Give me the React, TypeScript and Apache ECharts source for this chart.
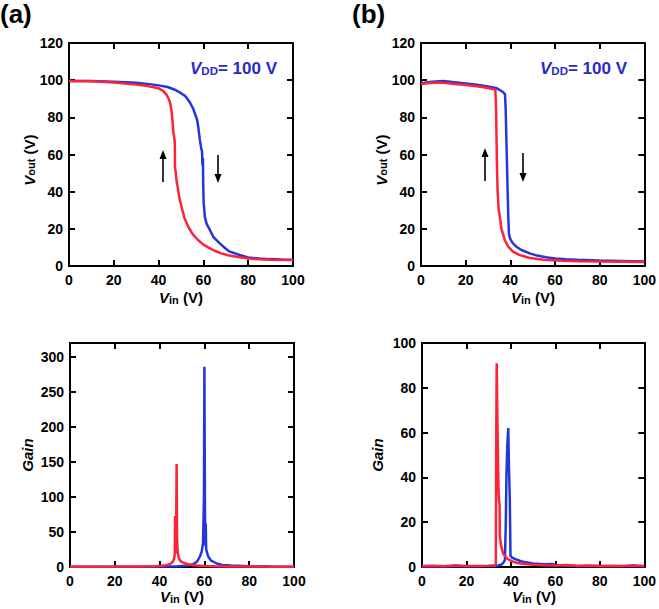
import React, { useEffect, useRef } from "react";
import * as echarts from "echarts";

// ---------- data ----------
const vinTicks = [0, 20, 40, 60, 80, 100];

// Panel (a) transfer curves [Vin, Vout]
const voutBlueA: number[][] = [
  [0, 99.6], [10, 99.5], [20, 99.2], [30, 98.6], [35, 98], [40, 97.2], [44, 96.3], [47, 95], [50, 93],
  [52, 91.3], [54, 88], [55.5, 84.5], [56.5, 81], [57.2, 78.7], [57.8, 74], [58.4, 68], [59, 63.5],
  [59.4, 61.5], [59.6, 54], [59.8, 58], [59.9, 45], [60.1, 34], [60.3, 32], [60.6, 26.6], [61.5, 22.5],
  [62.9, 19.4], [64.5, 15.5], [67.3, 12.2], [70, 9.3], [71.8, 7.7], [76.2, 5.9], [80, 4.6], [85, 4.0],
  [90, 3.7], [95, 3.5], [100, 3.4]
];
const voutRedA: number[][] = [
  [0, 99.6], [10, 99.4], [20, 98.8], [30, 97.6], [35, 96.8], [40, 95.6], [42, 94.2], [43.5, 92.2],
  [44.5, 90], [45.2, 87.5], [45.8, 83], [46.2, 78], [46.6, 72], [47, 69], [47.2, 67], [47.3, 60],
  [47.3, 53], [47.6, 51], [48, 46], [48.5, 42.7], [49.2, 37], [50.2, 32], [51.5, 26], [53.2, 21.2],
  [55.3, 17], [57.6, 14], [60, 11.5], [62.9, 9.5], [65, 8.2], [68, 6.8], [71, 5.8], [74.8, 5],
  [80, 4], [85, 3.6], [90, 3.4], [100, 3.2]
];

// Panel (b) transfer curves [Vin, Vout]
const voutBlueB: number[][] = [
  [0, 98.4], [5, 99.2], [10, 99.5], [15, 98.9], [20, 98.2], [25, 97.5], [30, 96.6], [34, 95.6],
  [36.7, 93.6], [37.6, 92.5], [37.9, 85], [38.2, 70], [38.5, 55], [38.8, 40], [39.1, 26], [39.4, 17],
  [40, 14.5], [41, 12.5], [42.7, 10.4], [45, 8.6], [48.7, 6.8], [52, 5.6], [56, 4.7], [60, 4.1],
  [65, 3.7], [70, 3.4], [80, 3.0], [90, 2.7], [100, 2.4]
];
const voutRedB: number[][] = [
  [0, 98], [5, 98.6], [10, 98.6], [15, 98], [20, 97.4], [25, 96.7], [30, 95.8], [33.3, 94.8],
  [33.6, 85], [33.8, 70], [34, 55], [34.3, 40], [34.8, 30], [35.3, 26.6], [36, 20], [37.5, 14],
  [39, 10.5], [41.2, 7.7], [44, 6], [48.7, 4.3], [55, 3.4], [63.5, 2.8], [70, 2.6], [80, 2.4],
  [90, 2.3], [100, 2.1]
];

// Panel (a) gain [Vin, Gain]
const gainBlueA: number[][] = [
  [0, 0.3], [20, 0.4], [40, 0.6], [48, 1], [52, 1.8], [55, 4], [56.8, 8], [58, 15], [58.8, 22],
  [59.4, 35], [59.8, 100], [60, 286], [60.25, 80], [60.45, 30], [60.6, 62], [60.8, 25], [61.7, 15],
  [63, 9], [65.5, 5], [68, 3], [72, 2], [80, 1], [90, 0.6], [100, 0.5]
];
const gainRedA: number[][] = [
  [0, 0.5], [10, 0.5], [20, 0.6], [30, 0.8], [38, 1.2], [42, 2], [44.6, 4], [45.8, 7], [46.5, 12],
  [46.8, 20], [46.9, 73], [47.05, 20], [47.3, 25], [47.6, 147], [47.8, 40], [48.1, 20], [48.6, 12],
  [49.5, 8], [50.5, 6], [52.6, 4], [55, 2.5], [60, 1.5], [65, 1], [70, 0.8], [80, 0.6], [90, 0.5],
  [100, 0.5]
];

// Panel (b) gain [Vin, Gain]
const gainBlueB: number[][] = [
  [0, 0.2], [20, 0.3], [30, 0.4], [34, 0.6], [36, 1.2], [37.3, 3], [37.7, 20], [38, 42], [38.4, 55],
  [38.8, 62], [39.1, 45], [39.5, 30], [39.8, 5], [40.5, 4.2], [42, 3.5], [44, 2.8], [46, 2.2],
  [50, 1.6], [55, 1.2], [59, 1.3], [60, 0.8], [70, 0.5], [80, 0.4], [100, 0.3]
];
const gainRedB: number[][] = [
  [0, 0.4], [5, 0.6], [10, 0.3], [15, 0.8], [20, 0.4], [25, 0.5], [30, 0.6], [32.5, 0.8], [33.2, 1],
  [33.4, 60], [33.6, 91], [34, 60], [34.4, 35], [34.6, 30], [34.9, 28], [35, 14], [35.5, 10],
  [36.5, 6], [38, 4], [39.5, 3], [41, 2.4], [43, 1.8], [46, 1.3], [50, 1], [55, 0.8], [60, 0.7],
  [65, 0.9], [70, 0.5], [75, 0.7], [80, 0.4], [85, 0.6], [90, 0.5], [95, 0.8], [100, 0.4]
];

const panelLetters = ["(a)", "(b)"];
const vddText = "= 100 V";

// ---------- styles ----------
const FONT = "'Liberation Sans', Arial, Helvetica, sans-serif";
const RED = "#ff2238";
const BLUE = "#2236dc";
const VDD_BLUE = "#2a2ac8";

const grids = [
  { left: 69, top: 43, width: 224, height: 223 },
  { left: 421, top: 43, width: 224, height: 223 },
  { left: 70, top: 343, width: 224, height: 224 },
  { left: 422, top: 343, width: 223, height: 224 },
];
const yRanges = [
  { min: 0, max: 120, interval: 20 },
  { min: 0, max: 120, interval: 20 },
  { min: 0, max: 320, interval: 50 },
  { min: 0, max: 100, interval: 20 },
];

function App() {
  const ref = useRef<HTMLDivElement>(null);
  useEffect(() => {
    document.body.style.margin = "0";
    if (!ref.current) return;
    const chart = echarts.init(ref.current, null, { renderer: "svg" });

    const axisLine = { show: true, onZero: false, lineStyle: { color: "#000", width: 2 } };
    const axisTick = { show: true, inside: true, length: 6, lineStyle: { color: "#000", width: 2 } };
    const label = { fontSize: 14, fontWeight: "bold", color: "#000", fontFamily: FONT };

    const xAxis: any[] = [];
    const yAxis: any[] = [];
    grids.forEach((_, g) => {
      const xBase = { type: "value", gridIndex: g, min: vinTicks[0], max: vinTicks[vinTicks.length - 1], interval: 20, splitLine: { show: false }, axisLine, axisTick };
      xAxis.push({ ...xBase, position: "bottom", axisLabel: { ...label, margin: 7 } });
      xAxis.push({ ...xBase, position: "top", axisLabel: { show: false } });
      const yr = yRanges[g];
      const yBase = { type: "value", gridIndex: g, ...yr, splitLine: { show: false }, axisLine, axisTick };
      yAxis.push({ ...yBase, position: "left", axisLabel: { ...label, margin: 6, showMaxLabel: yr.max % yr.interval === 0 } });
      yAxis.push({ ...yBase, position: "right", axisLabel: { show: false } });
    });

    const mk = (data: number[][], g: number, color: string) => ({
      type: "line",
      xAxisIndex: 2 * g,
      yAxisIndex: 2 * g,
      data,
      showSymbol: false,
      symbol: "none",
      lineStyle: { color, width: 2.5 },
      clip: true,
      z: 3,
    });

    const series = [
      mk(voutBlueA, 0, BLUE), mk(voutRedA, 0, RED),
      mk(voutBlueB, 1, BLUE), mk(voutRedB, 1, RED),
      mk(gainBlueA, 2, BLUE), mk(gainRedA, 2, RED),
      mk(gainBlueB, 3, BLUE), mk(gainRedB, 3, RED),
    ];

    // axis-name rich text: main tokens top-aligned, subscript bottom-aligned in a taller line
    const rich = {
      v: { fontFamily: FONT, fontSize: 15, fontWeight: "bold", fontStyle: "italic", fill: "#000", lineHeight: 15, verticalAlign: "top" },
      s: { fontFamily: FONT, fontSize: 11, fontWeight: "bold", fill: "#000", lineHeight: 11, verticalAlign: "bottom", padding: [9, 0, 0, 0] },
      n: { fontFamily: FONT, fontSize: 15, fontWeight: "bold", fill: "#000", lineHeight: 15, verticalAlign: "top" },
    };
    const richVdd = {
      v: { fontFamily: FONT, fontSize: 17, fontWeight: "bold", fontStyle: "italic", fill: VDD_BLUE, lineHeight: 17, verticalAlign: "top" },
      s: { fontFamily: FONT, fontSize: 11.5, fontWeight: "bold", fill: VDD_BLUE, lineHeight: 12, verticalAlign: "bottom", padding: [11, 0, 0, 0] },
      n: { fontFamily: FONT, fontSize: 17, fontWeight: "bold", fill: VDD_BLUE, lineHeight: 17, verticalAlign: "top" },
    };

    const yName = (x: number, y: number, text: string) => ({
      type: "text", x, y, rotation: Math.PI / 2,
      style: { text, rich, align: "center", verticalAlign: "middle" },
    });
    const xName = (x: number, y: number) => ({
      type: "text", x, y,
      style: { text: "{v|V}{s|in}{n| (V)}", rich, align: "center", verticalAlign: "top" },
    });

    const arrowUp = (x: number, yTop: number, yBot: number) => [
      { type: "line", shape: { x1: x, y1: yBot, x2: x, y2: yTop + 7 }, style: { stroke: "#000", lineWidth: 1.6 } },
      { type: "polygon", shape: { points: [[x, yTop], [x - 3.5, yTop + 9], [x + 3.5, yTop + 9]] }, style: { fill: "#000" } },
    ];
    const arrowDown = (x: number, yTop: number, yBot: number) => [
      { type: "line", shape: { x1: x, y1: yTop, x2: x, y2: yBot - 7 }, style: { stroke: "#000", lineWidth: 1.6 } },
      { type: "polygon", shape: { points: [[x, yBot], [x - 3.5, yBot - 9], [x + 3.5, yBot - 9]] }, style: { fill: "#000" } },
    ];

    const graphic: any[] = [
      { type: "text", left: 0, top: 1, style: { text: panelLetters[0], font: `bold 26px ${FONT}`, fill: "#000" } },
      { type: "text", left: 352, top: 1, style: { text: panelLetters[1], font: `bold 26px ${FONT}`, fill: "#000" } },
      yName(29, 160, "{v|V}{s|out}{n| (V)}"),
      yName(381, 160, "{v|V}{s|out}{n| (V)}"),
      yName(27, 455, "{v|Gain}"),
      yName(377, 455, "{v|Gain}"),
      xName(181, 290),
      xName(533, 290),
      xName(182, 589),
      xName(534, 589),
      { type: "text", x: 190, y: 60, style: { text: `{v|V}{s|DD}{n|${vddText}}`, rich: richVdd, align: "left", verticalAlign: "top" } },
      { type: "text", x: 540, y: 60, style: { text: `{v|V}{s|DD}{n|${vddText}}`, rich: richVdd, align: "left", verticalAlign: "top" } },
      ...arrowUp(163, 150, 182),
      ...arrowDown(218, 155, 183),
      ...arrowUp(485, 148, 181),
      ...arrowDown(523, 153, 182),
    ];

    chart.setOption({
      animation: false,
      backgroundColor: "#fff",
      grid: grids.map((g) => ({ ...g, containLabel: false })),
      xAxis,
      yAxis,
      series,
      graphic,
    });
    return () => chart.dispose();
  }, []);
  return <div ref={ref} style={{ width: 659, height: 609 }} />;
}

export default App;
